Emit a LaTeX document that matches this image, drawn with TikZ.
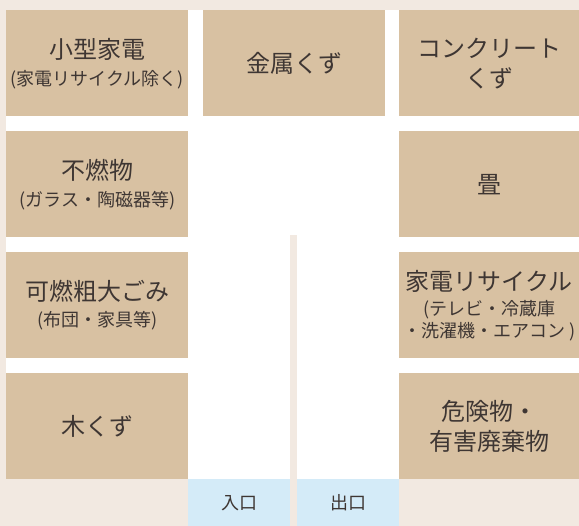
\documentclass[tikz,border=0pt]{standalone}
\usepackage{fontspec}
\setmainfont{Noto Sans CJK JP}
\definecolor{bgbeige}{HTML}{F2E9E1}
\definecolor{tan}{HTML}{D8C1A2}
\definecolor{skyblue}{HTML}{D4EBF8}
\definecolor{ink}{HTML}{3E3633}
\tikzset{
  area/.style={fill=tan, draw=none, anchor=north west, inner sep=0pt,
    minimum height=106pt, align=center, text=ink,
    font=\fontsize{24}{30}\selectfont},
  wide/.style={minimum width=182pt},
  edge/.style={minimum width=180pt},
  gate/.style={fill=skyblue, draw=none, anchor=north west, inner sep=0pt,
    minimum width=102pt, minimum height=47pt, text=ink,
    font=\fontsize{18}{22}\selectfont},
}
\newcommand{\subtxt}{\fontsize{18}{22}\selectfont}
\begin{document}
\begin{tikzpicture}[x=1pt,y=-1pt]
  \useasboundingbox (0,0) rectangle (579,526);
  \fill[bgbeige] (0,0) rectangle (579,526);
  \fill[white] (6,10) rectangle (579,479);
  \fill[bgbeige] (290,235) rectangle (297,526);

  \node[area,wide] (small) at (6,10) {小型家電\\[-3pt]\subtxt (家電リサイクル除く)};
  \node[area,wide] (metal) at (203,10) {金属くず};
  \node[area,edge] (concrete) at (399,10) {コンクリート\\くず};

  \node[area,wide] (nonburn) at (6,131) {不燃物\\[-3pt]\subtxt (ガラス・陶磁器等)};
  \node[area,edge] (tatami) at (399,131) {畳};

  \node[area,wide] (bulky) at (6,252) {可燃粗大ごみ\\[-4pt]\subtxt (布団・家具等)};
  \node[area,edge] (appliance) at (399,252) {家電リサイクル\\[-5pt]\subtxt (テレビ・冷蔵庫\\[-8pt]\subtxt ・洗濯機・エアコン )};

  \node[area,wide] (wood) at (6,373) {木くず};
  \node[area,edge] (hazard) at (399,373) {危険物・\\有害廃棄物};

  \node[gate] (entrance) at (188,479) {入口};
  \node[gate] (exit) at (297,479) {出口};
\end{tikzpicture}
\end{document}
